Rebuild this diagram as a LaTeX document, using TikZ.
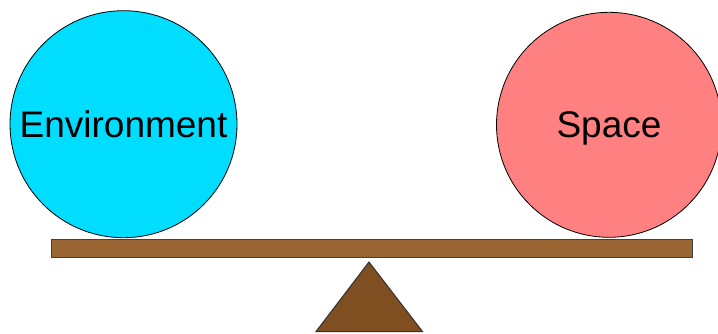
\documentclass[tikz,border=0pt]{standalone}
\usepackage{fontspec}
\setmainfont{Liberation Sans}
\definecolor{envcol}{HTML}{00DDFF}
\definecolor{spacecol}{HTML}{FF8080}
\definecolor{beamcol}{HTML}{996633}
\definecolor{pivotcol}{HTML}{7F4F21}
\begin{document}
\begin{tikzpicture}[x=1pt,y=-1pt,
  ball/.style={circle,draw=black,line width=0.8pt,inner sep=0pt,minimum size=227pt,text depth=0pt,font=\fontsize{37}{40}\selectfont},
  beamstyle/.style={draw=black!75,line width=1pt,fill=beamcol},
  pivotstyle/.style={draw=black!80,line width=1pt,fill=pivotcol}]
\useasboundingbox (0,0) rectangle (718,333);
\clip (0,0) rectangle (718,333);
\node[ball,fill=envcol] (env) at (123.5,124.2) {Environment};
\node[ball,fill=spacecol,minimum size=225pt] (space) at (609,124.8) {Space};
\node[beamstyle,minimum width=641pt,minimum height=18pt,inner sep=0pt,anchor=north west] (beam) at (51,238.7) {};
\coordinate (apex) at (369,262);
\coordinate (bl) at (316,331.5);
\coordinate (br) at (422.5,331.5);
\draw[pivotstyle] (apex) -- (br) -- (bl) -- cycle;
\end{tikzpicture}
\end{document}
